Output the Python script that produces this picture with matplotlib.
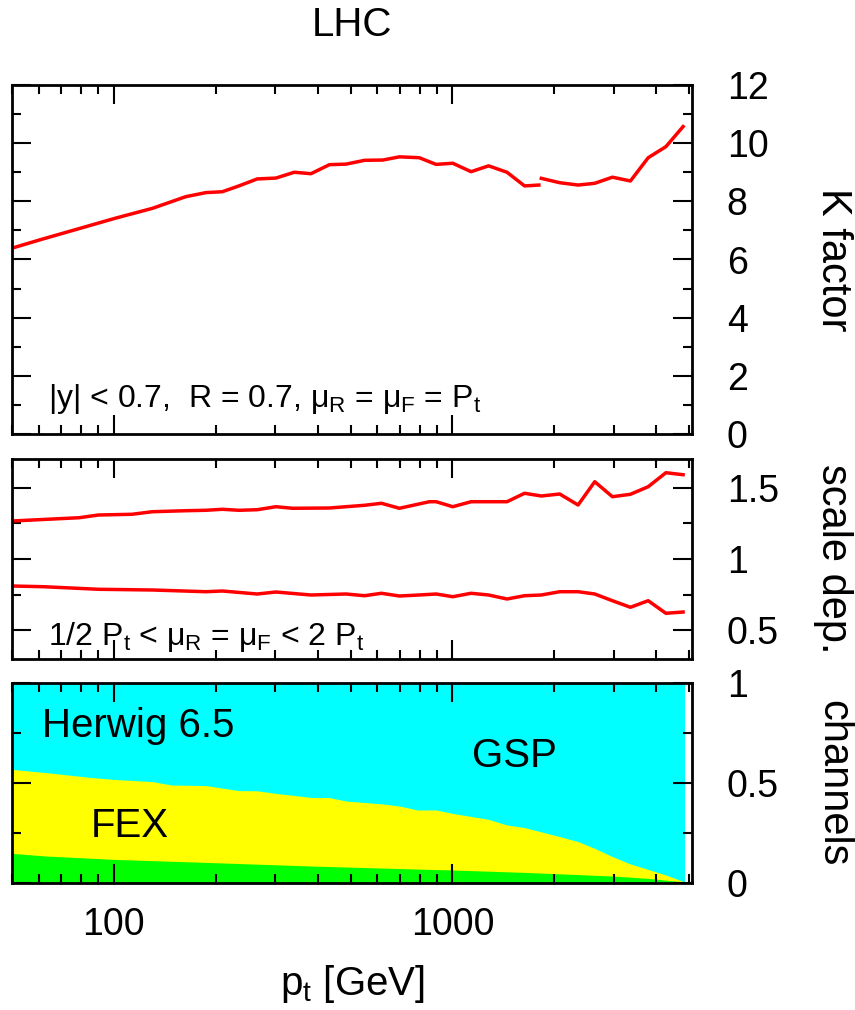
import numpy as np
import matplotlib
matplotlib.use('Agg')
import matplotlib.pyplot as plt
from matplotlib.ticker import MultipleLocator, FuncFormatter, NullFormatter

plt.rcParams['font.family'] = ['Liberation Sans', 'DejaVu Sans']
plt.rcParams['mathtext.fontset'] = 'custom'
plt.rcParams['mathtext.rm'] = 'Liberation Sans'
plt.rcParams['mathtext.it'] = 'Liberation Sans'
plt.rcParams['mathtext.bf'] = 'Liberation Sans:bold'

# K factor, two pieces (gap near 1.8 TeV)
pt_k1 = [50, 61, 81, 101, 130, 163, 187, 209, 234, 265, 301, 341, 382, 433, 485,
         550, 623, 697, 798, 855, 895, 1002, 1135, 1279, 1449, 1633, 1800]
k1 = [6.39, 6.69, 7.10, 7.42, 7.76, 8.16, 8.30, 8.33, 8.53, 8.77, 8.80, 9.00, 8.95, 9.26, 9.28,
      9.41, 9.42, 9.53, 9.50, 9.36, 9.27, 9.31, 9.02, 9.22, 9.00, 8.53, 8.56]
pt_k2 = [1830, 2074, 2350, 2632, 2968, 3355, 3786, 4270, 4800]
k2 = [8.79, 8.64, 8.56, 8.62, 8.83, 8.70, 9.50, 9.88, 10.57]

# scale dependence, upper and lower
pt_up = [50, 79, 90, 113, 130, 163, 187, 209, 234, 265, 301, 337, 433, 485, 550, 617, 697,
         789, 855, 895, 1002, 1135, 1279, 1449, 1633, 1830, 2074, 2350, 2632, 2968, 3355,
         3786, 4270, 4800]
s_up = [1.266, 1.289, 1.308, 1.313, 1.331, 1.338, 1.341, 1.348, 1.341, 1.345, 1.366, 1.355,
        1.357, 1.366, 1.376, 1.390, 1.355, 1.383, 1.401, 1.401, 1.366, 1.401, 1.401, 1.401,
        1.460, 1.441, 1.455, 1.378, 1.541, 1.436, 1.453, 1.506, 1.604, 1.590]
pt_lo = [50, 62, 90, 130, 187, 209, 265, 301, 382, 485, 550, 617, 697, 798, 895, 1002, 1135,
         1279, 1449, 1633, 1830, 2074, 2350, 2632, 2968, 3355, 3786, 4270, 4800]
s_lo = [0.811, 0.806, 0.788, 0.783, 0.771, 0.776, 0.755, 0.769, 0.748, 0.755, 0.743, 0.760,
        0.741, 0.748, 0.755, 0.736, 0.760, 0.748, 0.720, 0.743, 0.748, 0.771, 0.771, 0.755,
        0.708, 0.662, 0.708, 0.620, 0.629]

# channels (cumulative): FEX top edge, FCR (green) top edge
pt_fex = [50, 63, 85, 100, 130, 148, 187, 234, 265, 301, 382, 433, 485, 623, 697, 789, 895,
          1002, 1279, 1449, 1633, 2074, 2350, 2632, 2968, 3355, 3786, 4270, 4850]
fex = [0.568, 0.552, 0.528, 0.518, 0.507, 0.490, 0.487, 0.462, 0.461, 0.448, 0.428, 0.427,
       0.410, 0.395, 0.385, 0.365, 0.365, 0.348, 0.318, 0.290, 0.277, 0.232, 0.207, 0.173,
       0.132, 0.095, 0.068, 0.040, 0.005]
pt_grn = [50, 63, 100, 187, 382, 855, 1002, 1633, 2968, 3786, 4850]
grn = [0.148, 0.135, 0.118, 0.103, 0.085, 0.068, 0.065, 0.053, 0.035, 0.023, 0.005]
pt_all = [50, 4850]

W, H = 855, 1010
fig = plt.figure(figsize=(W/100, H/100), dpi=100)
ax1 = fig.add_axes([12/W, 1-434/H, 680/W, 349/H])
ax2 = fig.add_axes([12/W, 1-659/H, 680/W, 200/H])
ax3 = fig.add_axes([12/W, 1-883/H, 680/W, 200/H])

fmt = FuncFormatter(lambda v, p: f'{v:g}')


def style(ax, ylim, major, minor, xlabels=False):
    ax.set_xscale('log')
    ax.set_xlim(50, 5100)
    ax.set_ylim(*ylim)
    ax.yaxis.set_major_locator(MultipleLocator(major))
    ax.yaxis.set_minor_locator(MultipleLocator(minor))
    ax.yaxis.set_major_formatter(fmt)
    ax.xaxis.set_major_formatter(fmt)
    ax.xaxis.set_minor_formatter(NullFormatter())
    ax.tick_params(which='both', direction='in', top=True, bottom=True, left=True, right=True,
                   labelleft=False, labelright=True, labelbottom=xlabels, labelsize=27,
                   width=1.5)
    ax.tick_params(which='major', length=13.7)
    ax.tick_params(which='minor', length=6.5)
    ax.tick_params(axis='y', pad=25)
    ax.tick_params(axis='x', pad=17)
    for s in ax.spines.values():
        s.set_linewidth(2)


ax1.plot(pt_k1, k1, color='red', lw=2.5)
ax1.plot(pt_k2, k2, color='red', lw=2.5)
style(ax1, (0, 12), 2, 1)
ax1.text(0.053, 0.077, r'|y| < 0.7,  R = 0.7, $\mu_{\rm R}$ = $\mu_{\rm F}$ = P$_{\rm t}$',
         transform=ax1.transAxes, fontsize=23, va='baseline')
ax1.text(1.207, 0.5, 'K factor', transform=ax1.transAxes, rotation=270,
         ha='center', va='center', fontsize=30)

ax2.plot(pt_up, s_up, color='red', lw=2.5)
ax2.plot(pt_lo, s_lo, color='red', lw=2.5)
style(ax2, (0.3, 1.7), 0.5, 0.25)
ax2.text(0.053, 0.07, r'1/2 P$_{\rm t}$ < $\mu_{\rm R}$ = $\mu_{\rm F}$ < 2 P$_{\rm t}$',
         transform=ax2.transAxes, fontsize=23, va='baseline')
ax2.text(1.207, 0.5, 'scale dep.', transform=ax2.transAxes, rotation=270,
         ha='center', va='center', fontsize=30)

ax3.fill_between(pt_all, 0, 1, color='#00ffff', lw=0, zorder=1)
ax3.fill_between(pt_fex, 0, fex, color='#ffff00', lw=0, zorder=1.1)
ax3.fill_between(pt_grn, 0, grn, color='#00ff00', lw=0, zorder=1.2)
style(ax3, (0, 1), 0.5, 0.25, xlabels=True)
ax3.text(0.044, 0.73, 'Herwig 6.5', transform=ax3.transAxes, fontsize=29, va='baseline')
ax3.text(0.116, 0.23, 'FEX', transform=ax3.transAxes, fontsize=29, va='baseline')
ax3.text(0.676, 0.58, 'GSP', transform=ax3.transAxes, fontsize=29, va='baseline')
ax3.text(1.207, 0.5, 'channels', transform=ax3.transAxes, rotation=270,
         ha='center', va='center', fontsize=30)

fig.text(352/W, 1-25/H, 'LHC', ha='center', va='center', fontsize=29)
fig.text(352/W, 1-995/H, r'p$_{\rm t}$ [GeV]', ha='center', va='baseline', fontsize=29)

fig.savefig('out.png', dpi=100)
